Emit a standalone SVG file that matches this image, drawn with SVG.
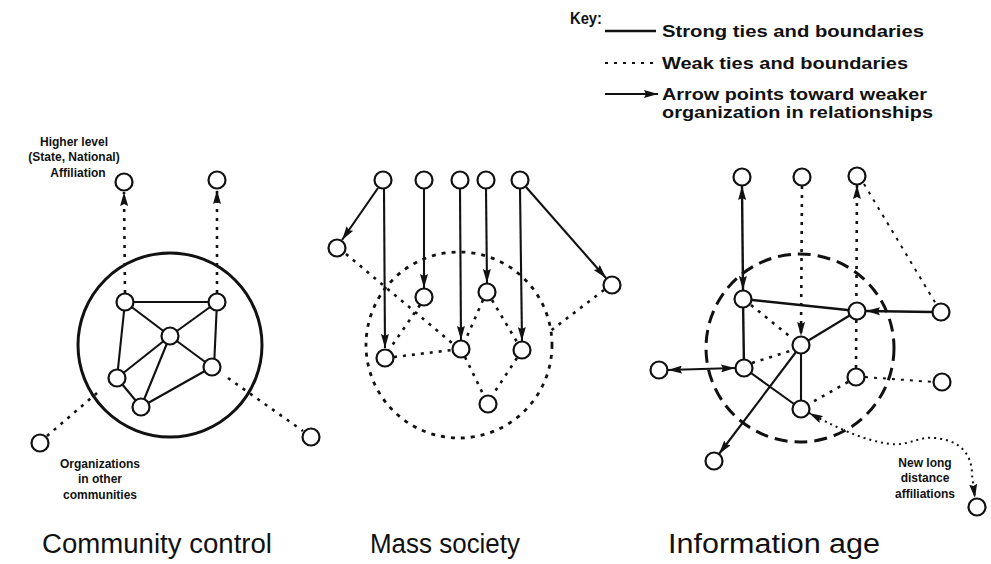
<svg xmlns="http://www.w3.org/2000/svg" width="991" height="564" viewBox="0 0 991 564">
  <defs>
    <style>
      .node { fill: #fff; stroke: #111; stroke-width: 2.2; }
      .strong { fill: none; stroke: #111; stroke-width: 2.1; }
      .weak { fill: none; stroke: #111; stroke-width: 2.6; stroke-dasharray: 3 6; }
      .arr { marker-end: url(#ah); }
      .both { marker-start: url(#ah); marker-end: url(#ah); }
      .small { font-family: "Liberation Sans", Arial, sans-serif; font-weight: bold; font-size: 12px; fill: #111; text-anchor: middle; }
      .key { font-family: "Liberation Sans", Arial, sans-serif; font-weight: bold; font-size: 17px; fill: #111; }
      .title { font-family: "Liberation Sans", Arial, sans-serif; font-size: 27px; fill: #111; }
    </style>
    <marker id="ah" viewBox="0 0 14 8" refX="14" refY="4" markerWidth="14" markerHeight="8" markerUnits="userSpaceOnUse" orient="auto-start-reverse">
      <path d="M0,0 L14,4 L0,8 L2,4 z" fill="#111"/>
    </marker>
  </defs>
  <rect width="991" height="564" fill="#fff"/>

  <!-- Key -->
  <g id="key">
    <text class="key" x="570" y="24" textLength="32" lengthAdjust="spacingAndGlyphs">Key:</text>
    <line class="strong" x1="605" y1="31" x2="656" y2="31" style="stroke-width:2.4"/>
    <text class="key" x="662" y="37" textLength="262" lengthAdjust="spacingAndGlyphs">Strong ties and boundaries</text>
    <line class="weak" x1="605" y1="63" x2="656" y2="63" style="stroke-width:2"/>
    <text class="key" x="662" y="69" textLength="246" lengthAdjust="spacingAndGlyphs">Weak ties and boundaries</text>
    <line class="strong arr" x1="605" y1="94" x2="658" y2="94"/>
    <text class="key" x="662" y="100" textLength="265" lengthAdjust="spacingAndGlyphs">Arrow points toward weaker</text>
    <text class="key" x="662" y="118" textLength="271" lengthAdjust="spacingAndGlyphs">organization in relationships</text>
  </g>

  <!-- Community control: boundaries and ties -->
  <g id="cc-links">
    <circle cx="170" cy="345" r="92" fill="none" stroke="#111" stroke-width="3"/>
    <line class="strong" x1="125" y1="302" x2="217" y2="302"/>
    <line class="strong" x1="125" y1="302" x2="170" y2="336"/>
    <line class="strong" x1="217" y1="302" x2="170" y2="336"/>
    <line class="strong" x1="125" y1="302" x2="117" y2="378"/>
    <line class="strong" x1="217" y1="302" x2="214" y2="367"/>
    <line class="strong" x1="170" y1="336" x2="117" y2="378"/>
    <line class="strong" x1="170" y1="336" x2="141" y2="407"/>
    <line class="strong" x1="170" y1="336" x2="212" y2="367"/>
    <line class="strong" x1="117" y1="378" x2="141" y2="407"/>
    <line class="strong" x1="141" y1="407" x2="212" y2="367"/>
    <line class="weak arr" x1="125" y1="293" x2="124" y2="192"/>
    <line class="weak arr" x1="217" y1="293" x2="217" y2="190"/>
    <line class="weak" x1="47" y1="436" x2="97" y2="393"/>
    <line class="weak" x1="228" y1="378" x2="303" y2="431"/>
  </g>
  <g id="cc-top1"><circle class="node" cx="124" cy="182" r="8.5"/></g>
  <g id="cc-top2"><circle class="node" cx="217" cy="180" r="8.5"/></g>
  <g id="cc-a"><circle class="node" cx="125" cy="302" r="8.5"/></g>
  <g id="cc-b"><circle class="node" cx="217" cy="302" r="8.5"/></g>
  <g id="cc-c"><circle class="node" cx="170" cy="336" r="8.5"/></g>
  <g id="cc-d"><circle class="node" cx="212" cy="367" r="8.5"/></g>
  <g id="cc-e"><circle class="node" cx="117" cy="378" r="8.5"/></g>
  <g id="cc-f"><circle class="node" cx="141" cy="407" r="8.5"/></g>
  <g id="cc-other1"><circle class="node" cx="40" cy="443" r="8.5"/></g>
  <g id="cc-other2"><circle class="node" cx="311" cy="437" r="8.5"/></g>
  <g id="cc-labels">
    <text class="small" x="74" y="146">Higher level</text>
    <text class="small" x="74" y="161">(State, National)</text>
    <text class="small" x="78" y="177">Affiliation</text>
    <text class="small" x="100" y="468">Organizations</text>
    <text class="small" x="100" y="483">in other</text>
    <text class="small" x="100" y="499">communities</text>
  </g>

  <!-- Mass society -->
  <g id="ms-links">
    <circle cx="459" cy="345" r="93" fill="none" stroke="#111" stroke-width="2.8" stroke-dasharray="4 6"/>
    <line class="strong arr" x1="378" y1="188" x2="342" y2="240"/>
    <line class="strong arr" x1="384" y1="189" x2="385" y2="348"/>
    <line class="strong arr" x1="424" y1="189" x2="424" y2="288"/>
    <line class="strong arr" x1="460" y1="189" x2="461" y2="340"/>
    <line class="strong arr" x1="486" y1="189" x2="487" y2="283"/>
    <line class="strong arr" x1="520" y1="189" x2="522" y2="341"/>
    <line class="strong arr" x1="526" y1="187" x2="606" y2="278"/>
    <line class="weak" x1="346" y1="254" x2="452" y2="343"/>
    <line class="weak" x1="420" y1="305" x2="389" y2="350"/>
    <line class="weak" x1="394" y1="357" x2="452" y2="350"/>
    <line class="weak" x1="483" y1="300" x2="465" y2="341"/>
    <line class="weak" x1="492" y1="300" x2="517" y2="342"/>
    <line class="weak" x1="465" y1="357" x2="484" y2="396"/>
    <line class="weak" x1="517" y1="358" x2="492" y2="396"/>
    <line class="weak" x1="604" y1="290" x2="549" y2="332"/>
  </g>
  <g id="ms-top1"><circle class="node" cx="383" cy="180" r="8.5"/></g>
  <g id="ms-top2"><circle class="node" cx="424" cy="180" r="8.5"/></g>
  <g id="ms-top3"><circle class="node" cx="460" cy="180" r="8.5"/></g>
  <g id="ms-top4"><circle class="node" cx="486" cy="180" r="8.5"/></g>
  <g id="ms-top5"><circle class="node" cx="520" cy="180" r="8.5"/></g>
  <g id="ms-left"><circle class="node" cx="337" cy="248" r="8.5"/></g>
  <g id="ms-right"><circle class="node" cx="612" cy="285" r="8.5"/></g>
  <g id="ms-n2"><circle class="node" cx="424" cy="297" r="8.5"/></g>
  <g id="ms-n4"><circle class="node" cx="487" cy="292" r="8.5"/></g>
  <g id="ms-b1"><circle class="node" cx="385" cy="358" r="8.5"/></g>
  <g id="ms-b3"><circle class="node" cx="461" cy="349" r="8.5"/></g>
  <g id="ms-b5"><circle class="node" cx="522" cy="350" r="8.5"/></g>
  <g id="ms-bottom"><circle class="node" cx="488" cy="404" r="8.5"/></g>

  <!-- Information age -->
  <g id="ia-links">
    <circle cx="800" cy="348" r="94" fill="none" stroke="#111" stroke-width="3" stroke-dasharray="13 7"/>
    <line class="strong both" x1="743" y1="290" x2="742" y2="186" style="stroke-width:2.4"/>
    <line class="strong" x1="743" y1="299" x2="857" y2="311" style="stroke-width:2.4"/>
    <line class="strong" x1="743" y1="299" x2="744" y2="368" style="stroke-width:2.4"/>
    <line class="strong" x1="744" y1="368" x2="801" y2="409"/>
    <line class="strong" x1="801" y1="345" x2="801" y2="409"/>
    <line class="strong" x1="801" y1="345" x2="857" y2="311"/>
    <line class="strong arr" x1="796" y1="352" x2="719" y2="454"/>
    <line class="strong arr" x1="932" y1="312" x2="866" y2="311" style="stroke-width:2.4"/>
    <line class="strong both" x1="668" y1="370" x2="735" y2="368"/>
    <line class="weak arr" x1="802" y1="186" x2="801" y2="336"/>
    <line class="weak arr" x1="856" y1="368" x2="857" y2="185"/>
    <line class="weak" x1="864" y1="184" x2="936" y2="304" style="stroke-width:2"/>
    <line class="weak" x1="751" y1="305" x2="793" y2="339"/>
    <line class="weak" x1="752" y1="363" x2="793" y2="350"/>
    <line class="weak" x1="848" y1="382" x2="809" y2="404"/>
    <line class="weak" x1="865" y1="377" x2="933" y2="382" style="stroke-width:2"/>
    <path class="weak both" d="M809,413 C830,424 860,440 890,444 C910,446 918,436 935,438 C958,440 972,452 972,475 L975,498" style="stroke-width:2;stroke-dasharray:2 4"/>
  </g>
  <g id="ia-top1"><circle class="node" cx="742" cy="177" r="8.5"/></g>
  <g id="ia-top2"><circle class="node" cx="802" cy="177" r="8.5"/></g>
  <g id="ia-top3"><circle class="node" cx="857" cy="176" r="8.5"/></g>
  <g id="ia-p"><circle class="node" cx="743" cy="299" r="8.5"/></g>
  <g id="ia-q"><circle class="node" cx="857" cy="311" r="8.5"/></g>
  <g id="ia-r"><circle class="node" cx="941" cy="312" r="8.5"/></g>
  <g id="ia-s"><circle class="node" cx="801" cy="345" r="8.5"/></g>
  <g id="ia-t"><circle class="node" cx="744" cy="368" r="8.5"/></g>
  <g id="ia-u"><circle class="node" cx="659" cy="370" r="8.5"/></g>
  <g id="ia-v"><circle class="node" cx="856" cy="377" r="8.5"/></g>
  <g id="ia-w"><circle class="node" cx="942" cy="382" r="8.5"/></g>
  <g id="ia-x"><circle class="node" cx="801" cy="409" r="8.5"/></g>
  <g id="ia-y"><circle class="node" cx="714" cy="461" r="8.5"/></g>
  <g id="ia-z"><circle class="node" cx="977" cy="507" r="8.5"/></g>
  <g id="ia-labels">
    <text class="small" x="925" y="467">New long</text>
    <text class="small" x="925" y="482">distance</text>
    <text class="small" x="925" y="498">affiliations</text>
  </g>

  <!-- Panel titles -->
  <g id="titles">
    <text class="title" x="42" y="553" textLength="230" lengthAdjust="spacingAndGlyphs">Community control</text>
    <text class="title" x="370" y="553" textLength="150" lengthAdjust="spacingAndGlyphs">Mass society</text>
    <text class="title" x="668" y="553" textLength="212" lengthAdjust="spacingAndGlyphs">Information age</text>
  </g>
</svg>
